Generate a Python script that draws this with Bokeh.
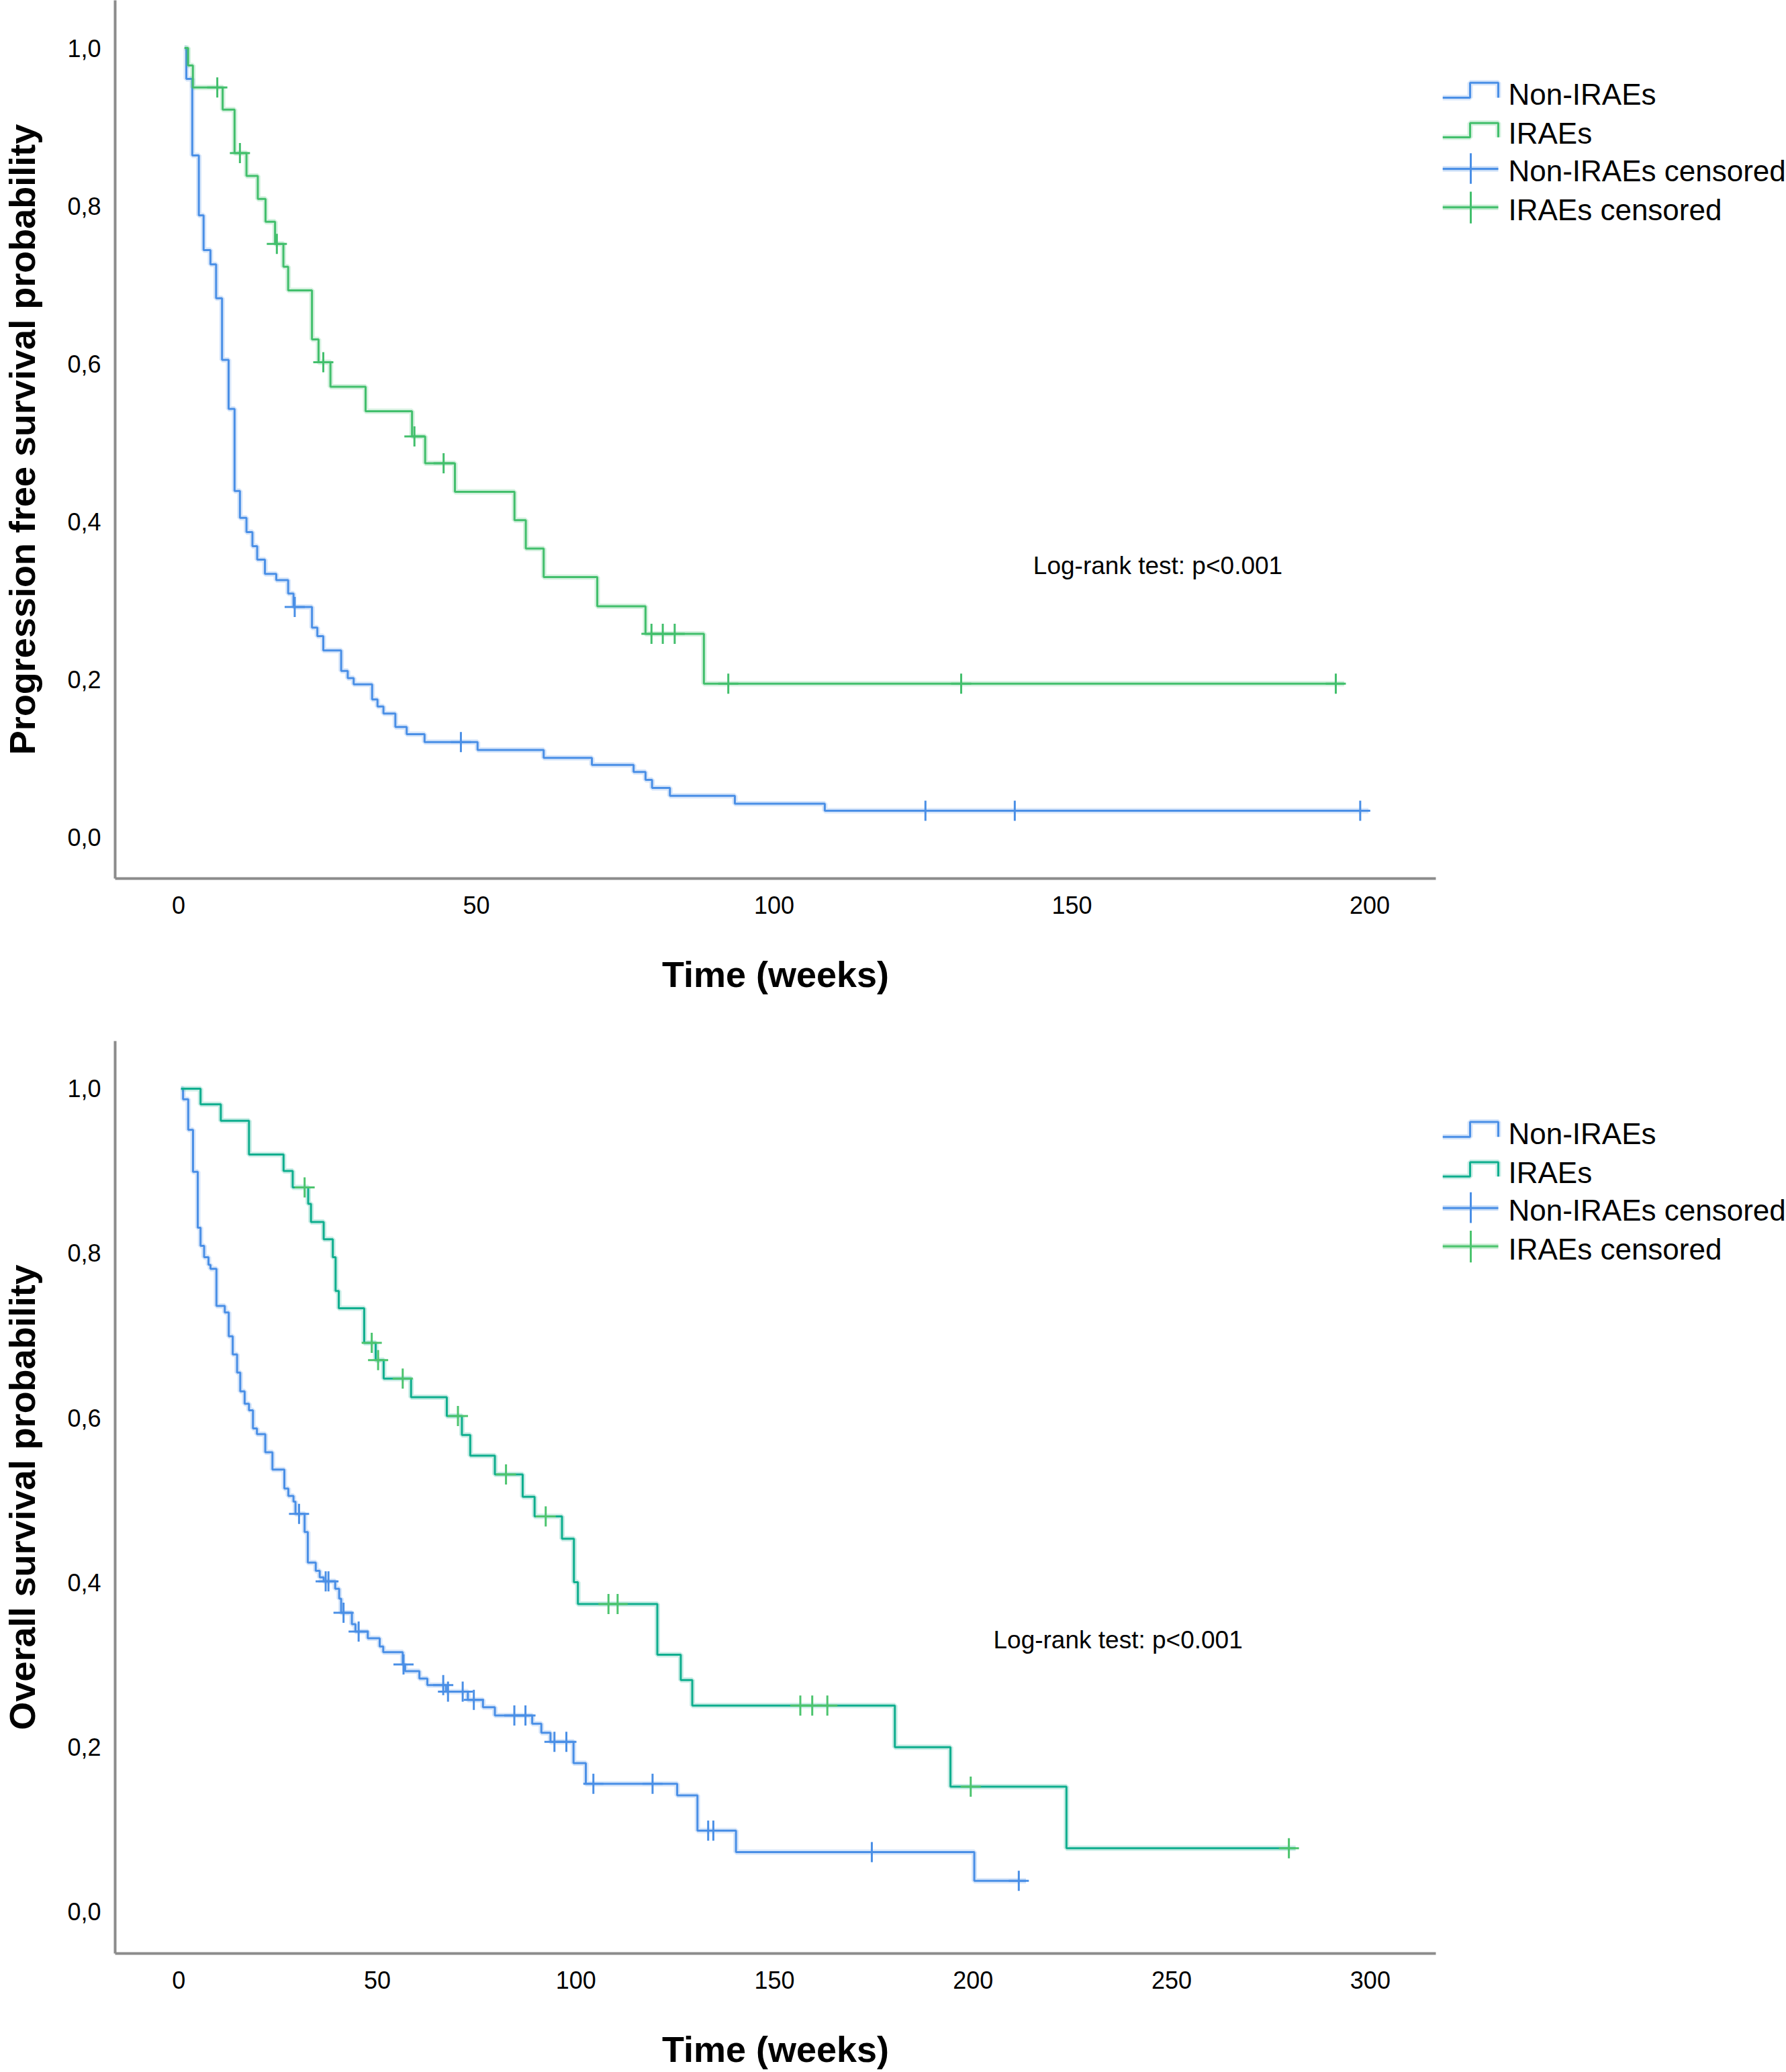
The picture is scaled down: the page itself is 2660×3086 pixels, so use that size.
import numpy as np
from bokeh.plotting import figure
from bokeh.layouts import column, row
from bokeh.models import Range1d, FixedTicker, CustomJSTickFormatter, Label
from bokeh.embed import file_html
from bokeh.resources import INLINE

# ---------------- DATA ----------------
# Panel A: Progression free survival (weeks)
pfs_non_start = 1.0
pfs_non_times = [1.3, 2.3, 3.4, 4.2, 5.35, 6.3, 7.3, 8.4, 9.4, 10.3, 11.4, 12.4, 13.2, 14.5,
                 16.4, 18.4, 19.3, 22.4, 23.3, 24.3, 27.3, 28.4, 29.4, 32.5, 33.4, 34.4, 36.4,
                 38.3, 41.3, 50.2, 61.3, 69.4, 76.4, 78.4, 79.5, 82.5, 93.4, 108.5]
pfs_non_surv = [0.961, 0.864, 0.788, 0.744, 0.726, 0.683, 0.605, 0.543, 0.439, 0.405, 0.387,
                0.369, 0.352, 0.334, 0.326, 0.309, 0.292, 0.266, 0.255, 0.237, 0.211, 0.202,
                0.194, 0.175, 0.166, 0.157, 0.140, 0.131, 0.121, 0.111, 0.101, 0.092, 0.083,
                0.073, 0.063, 0.053, 0.043, 0.034]
pfs_non_end = 199.8
pfs_non_censored = [19.5, 47.4, 125.4, 140.4, 198.4]

pfs_irae_start = 1.0
pfs_irae_times = [1.6, 2.4, 7.4, 9.4, 11.4, 13.3, 14.6, 16.2, 17.6, 18.4, 22.4, 23.5, 25.5,
                  31.4, 39.2, 41.4, 46.4, 56.4, 58.3, 61.3, 70.3, 78.4, 88.2]
pfs_irae_surv = [0.978, 0.950, 0.922, 0.867, 0.838, 0.809, 0.780, 0.752, 0.723, 0.693, 0.631,
                 0.602, 0.571, 0.540, 0.508, 0.474, 0.438, 0.402, 0.366, 0.330, 0.293, 0.258,
                 0.195]
pfs_irae_end = 195.7
pfs_irae_censored = [6.5, 10.3, 16.5, 24.3, 39.6, 44.5, 79.4, 81.3, 83.3, 92.3, 131.4, 194.3]

# Panel B: Overall survival (weeks)
os_non_start = 0.6
os_non_times = [1.1, 2.4, 3.6, 4.8, 5.5, 6.4, 7.5, 8.0, 9.5, 11.6, 12.6, 13.6, 14.7, 15.5,
                16.6, 17.7, 18.7, 19.7, 21.8, 23.6, 26.6, 27.6, 28.9, 29.4, 31.7, 32.5, 34.5,
                35.5, 36.5, 39.4, 40.4, 40.9, 43.6, 44.5, 47.6, 50.6, 51.5, 56.4, 57.0, 60.6,
                62.6, 67.3, 72.8, 76.6, 79.6, 89.0, 91.3, 93.6, 99.4, 102.5, 125.5, 130.6,
                140.3, 200.3]
os_non_surv = [0.987, 0.950, 0.899, 0.831, 0.809, 0.795, 0.786, 0.781, 0.736, 0.728, 0.699,
               0.677, 0.655, 0.632, 0.617, 0.609, 0.587, 0.580, 0.558, 0.537, 0.514, 0.505,
               0.498, 0.483, 0.461, 0.424, 0.414, 0.406, 0.401, 0.392, 0.380, 0.363, 0.349,
               0.340, 0.332, 0.322, 0.315, 0.300, 0.292, 0.283, 0.275, 0.267, 0.257, 0.248,
               0.238, 0.228, 0.217, 0.206, 0.180, 0.155, 0.141, 0.098, 0.072, 0.037]
os_non_end = 213.3
os_non_censored = [30.3, 37.0, 37.7, 41.5, 45.3, 56.6, 66.6, 67.8, 71.5, 74.3, 84.5, 87.3,
                   94.6, 97.6, 104.4, 119.3, 133.3, 134.6, 174.5, 211.5]

os_irae_start = 0.6
os_irae_times = [5.5, 10.6, 17.7, 26.4, 28.7, 32.6, 33.3, 36.5, 38.8, 39.5, 40.3, 46.7, 49.6,
                 51.6, 58.5, 67.5, 71.3, 73.4, 79.6, 86.6, 89.6, 96.5, 99.5, 100.5, 120.5,
                 126.4, 129.3, 180.3, 194.3, 223.5]
os_irae_surv = [0.981, 0.961, 0.920, 0.900, 0.880, 0.860, 0.838, 0.817, 0.795, 0.754, 0.733,
                0.691, 0.670, 0.6475, 0.625, 0.602, 0.579, 0.554, 0.531, 0.504, 0.480, 0.453,
                0.400, 0.3735, 0.312, 0.281, 0.250, 0.1995, 0.1515, 0.0766]
os_irae_end = 281.2
os_irae_censored = [31.7, 48.6, 50.2, 56.4, 70.3, 82.4, 92.4, 108.2, 110.5, 156.5, 159.5,
                    163.3, 199.4, 279.5]

pfs_xticks = [0, 50, 100, 150, 200]
os_xticks = [0, 50, 100, 150, 200, 250, 300]
y_ticks = [0.0, 0.2, 0.4, 0.6, 0.8, 1.0]
group_labels = ["Non-IRAEs", "IRAEs", "Non-IRAEs censored", "IRAEs censored"]
logrank_text = "Log-rank test: p<0.001"

# ---------------- STYLE ----------------
BLUE = "#4a8fe6"
GREEN = "#42bf6c"
TEAL = "#0fae8e"
CENS_GREEN = "#4cc46e"
AXIS_GRAY = "#8c8c8c"
FONT = "Liberation Sans"

MAIN_W = 2148
LEG_W = 512


def step_xy(start, times, surv, end):
    xs = [start] + list(times) + [end]
    ys = [1.0] + list(surv) + [surv[-1]]
    return xs, ys


def surv_at(times, surv, cens):
    t = np.asarray(times)
    s = np.concatenate([[1.0], np.asarray(surv)])
    idx = np.searchsorted(t, np.asarray(cens), side="right")
    return list(s[idx])


def make_main(H, b_top, b_bottom, xr, yr, xticks, ytitle, groups, logrank_xy):
    p = figure(width=MAIN_W, height=H, x_range=Range1d(*xr), y_range=Range1d(*yr),
               output_backend="svg", toolbar_location=None,
               min_border_left=171, min_border_right=10,
               min_border_top=b_top, min_border_bottom=b_bottom)
    p.outline_line_color = None
    p.grid.visible = False
    p.background_fill_color = "white"
    p.border_fill_color = "white"

    for ax in (p.xaxis[0], p.yaxis[0]):
        ax.axis_line_color = AXIS_GRAY
        ax.axis_line_width = 4
        ax.major_tick_line_color = None
        ax.minor_tick_line_color = None
        ax.major_tick_out = 0
        ax.major_tick_in = 0
        ax.major_label_text_font = FONT
        ax.major_label_text_font_size = "36px"
        ax.major_label_text_color = "black"
        ax.axis_label_text_font = FONT
        ax.axis_label_text_font_size = "54px"
        ax.axis_label_text_font_style = "bold"
        ax.axis_label_text_color = "black"

    p.xaxis.ticker = FixedTicker(ticks=xticks)
    p.yaxis.ticker = FixedTicker(ticks=y_ticks)
    p.yaxis.formatter = CustomJSTickFormatter(code="return tick.toFixed(1).replace('.', ',');")
    p.xaxis.axis_label = "Time (weeks)"
    p.yaxis.axis_label = ytitle
    p.xaxis.major_label_standoff = 26
    p.xaxis.axis_label_standoff = 57
    p.yaxis.major_label_standoff = 21
    p.yaxis.axis_label_standoff = 34

    for (start, times, surv, end, cens, lcol, ccol) in groups:
        xs, ys = step_xy(start, times, surv, end)
        p.step(xs, ys, mode="after", line_color=lcol, line_width=8, line_alpha=0.22)
        p.step(xs, ys, mode="after", line_color=lcol, line_width=3)
        cy = surv_at(times, surv, cens)
        p.scatter(cens, cy, marker="cross", size=30, line_color=ccol, line_width=3)

    p.add_layout(Label(x=logrank_xy[0], y=logrank_xy[1], text=logrank_text,
                       text_baseline="middle", text_align="left",
                       text_font=FONT, text_font_size="37px", text_color="black"))
    return p


def make_legend(H, frame_h, off, colors):
    # in a row, this figure's frame is aligned to the neighbouring plot frame;
    # the y range is expressed in pixels from the top of that frame
    lg = figure(width=LEG_W, height=H, x_range=Range1d(0, LEG_W), y_range=Range1d(frame_h, 0),
                output_backend="svg", toolbar_location=None, x_axis_type=None,
                y_axis_type=None, min_border=0)
    lg.outline_line_color = None
    lg.grid.visible = False
    c_non, c_irae, c_ncen, c_icen = colors
    for (col, low, high) in ((c_non, 145.0, 122.7), (c_irae, 204.0, 182.7)):
        xs = [0, 41, 41, 83, 83]
        ys = [low + off, low + off, high + off, high + off, low + off]
        lg.line(xs, ys, line_color=col, line_width=8, line_alpha=0.22)
        lg.line(xs, ys, line_color=col, line_width=3)
    for (col, mid, top, bot) in ((c_ncen, 251.0, 227.7, 273.3), (c_icen, 308.3, 285.0, 332.3)):
        lg.line([0, 83], [mid + off, mid + off], line_color=col, line_width=8, line_alpha=0.3)
        lg.line([0, 83], [mid + off, mid + off], line_color=col, line_width=3)
        lg.line([42, 42], [top + off, bot + off], line_color=col, line_width=3)
    ys_text = [140.0 + off, 198.3 + off, 254.0 + off, 312.3 + off]
    lg.text(x=[98] * 4, y=ys_text, text=group_labels, text_baseline="middle",
            text_align="left", text_font_size="44px", text_font={"value": FONT},
            text_color="black")
    return lg


H1 = 1530
H2 = 1554

top = make_main(H1, 0, 222, (-10.65, 211.1), (-0.0519, 1.0604), pfs_xticks,
                "Progression free survival probability",
                [(pfs_non_start, pfs_non_times, pfs_non_surv, pfs_non_end, pfs_non_censored, BLUE, BLUE),
                 (pfs_irae_start, pfs_irae_times, pfs_irae_surv, pfs_irae_end, pfs_irae_censored, GREEN, GREEN)],
                (143.5, 0.344))
bot = make_main(H2, 20, 173, (-16.0, 316.5), (-0.0513, 1.0579), os_xticks,
                "Overall survival probability",
                [(os_non_start, os_non_times, os_non_surv, os_non_end, os_non_censored, BLUE, BLUE),
                 (os_irae_start, os_irae_times, os_irae_surv, os_irae_end, os_irae_censored, TEAL, CENS_GREEN)],
                (205.1, 0.330))

leg_top = make_legend(H1, 1308, 0, (BLUE, GREEN, BLUE, GREEN))
leg_bot = make_legend(H2, 1361, -2, (BLUE, TEAL, BLUE, CENS_GREEN))

layout = column(row(top, leg_top, spacing=0), row(bot, leg_bot, spacing=0), spacing=0)

open("out.html", "w").write(file_html(layout, INLINE))
